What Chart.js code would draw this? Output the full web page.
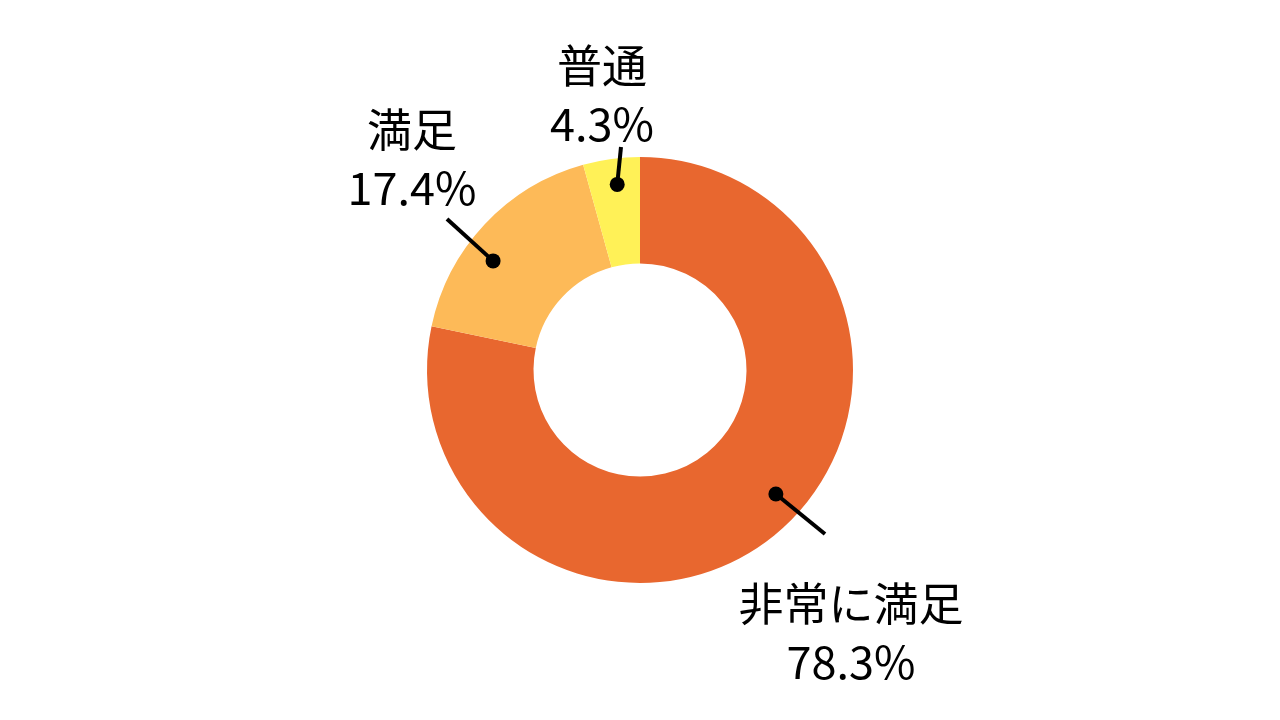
<!DOCTYPE html>
<html>
<head>
<meta charset="utf-8">
<script src="https://cdn.jsdelivr.net/npm/chart.js@4"></script>
<style>
  html, body { margin: 0; padding: 0; background: #fff; }
  #wrap { width: 1280px; height: 720px; }
</style>
</head>
<body>
<div id="wrap"><canvas id="myChart" width="1280" height="720"></canvas></div>
<script>
const labels = ['非常に満足', '満足', '普通']
const values = [78.3, 17.4, 4.3]
const colors = ['#E8672F', '#FDBA58', '#FFF157']

// leader layout, offsets from the donut centre (px)
const callouts = [
  { deg: 132.4, r: 184, end: [185, 164], text: [211, 234] },
  { deg: 306.6, r: 183, end: [-193, -151], text: [-228, -240] },
  { deg: 353, r: 187, end: [-19, -223], text: [-38, -304] },
]

const calloutPlugin = {
  id: 'callouts',
  afterDraw(chart) {
    const ctx = chart.ctx
    const arc = chart.getDatasetMeta(0).data[0]
    const cx = arc.x
    const cy = arc.y
    ctx.save()
    callouts.forEach((c, i) => {
      const a = (c.deg * Math.PI) / 180
      const dx = cx + c.r * Math.sin(a)
      const dy = cy - c.r * Math.cos(a)
      ctx.strokeStyle = '#000'
      ctx.lineWidth = 4
      ctx.beginPath()
      ctx.moveTo(dx, dy)
      ctx.lineTo(cx + c.end[0], cy + c.end[1])
      ctx.stroke()
      ctx.fillStyle = '#000'
      ctx.beginPath()
      ctx.arc(dx, dy, 7.5, 0, Math.PI * 2)
      ctx.fill()
      ctx.font = '45px "Noto Sans CJK JP"'
      ctx.textAlign = 'center'
      ctx.textBaseline = 'middle'
      ctx.fillText(labels[i], cx + c.text[0], cy + c.text[1])
      ctx.fillText(values[i].toFixed(1) + '%', cx + c.text[0], cy + c.text[1] + 58)
    })
    ctx.restore()
  },
}

const config = {
  type: 'doughnut',
  data: {
    labels: labels,
    datasets: [
      {
        data: values,
        backgroundColor: colors,
        borderWidth: 0,
      },
    ],
  },
  options: {
    responsive: false,
    animation: false,
    cutout: '50%',
    layout: { padding: { top: 157, bottom: 137 } },
    plugins: {
      legend: { display: false },
      tooltip: { enabled: false },
    },
  },
  plugins: [calloutPlugin],
}

var myChart = new Chart(document.getElementById('myChart'), config)
</script>
</body>
</html>
